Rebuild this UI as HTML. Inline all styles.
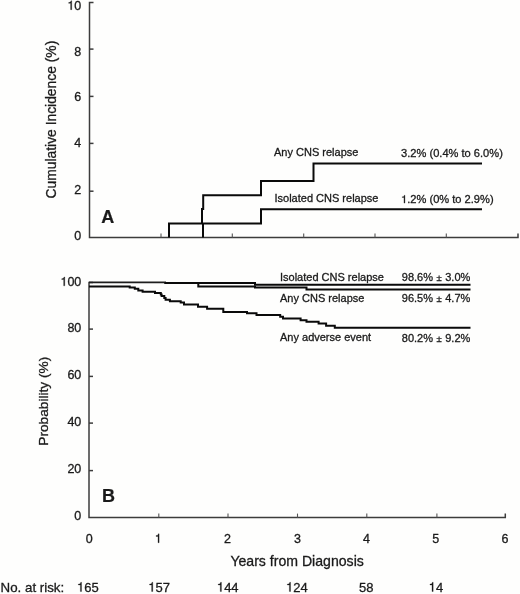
<!DOCTYPE html>
<html><head><meta charset="utf-8"><title>Cumulative incidence of CNS relapse and event-free probability</title>
<style>
html,body{margin:0;padding:0;background:#fff;}
body{width:520px;height:594px;overflow:hidden;font-family:"Liberation Sans",sans-serif;}
svg{display:block;will-change:transform;}
tspan.h{fill:none;stroke:none;}
</style></head><body>
<svg width="520" height="594" viewBox="0 0 520 594">
<rect width="520" height="594" fill="#fefefd"/>
<g stroke="#3c3c3c" stroke-width="1.5" fill="none">
<path d="M93.5,2.5 H89.5 V237.5 H518 V233.5"/>
<path d="M89.5,49.1 H93.5"/>
<path d="M89.5,96.4 H93.5"/>
<path d="M89.5,143.4 H93.5"/>
<path d="M89.5,191.2 H93.5"/>
<path d="M161,237.5 V233.5" stroke-width="1.1" stroke="#555"/>
<path d="M232.3,237.5 V233.5" stroke-width="1.1" stroke="#555"/>
<path d="M303.7,237.5 V233.5" stroke-width="1.1" stroke="#555"/>
<path d="M375,237.5 V233.5" stroke-width="1.1" stroke="#555"/>
<path d="M446.3,237.5 V233.5" stroke-width="1.1" stroke="#555"/>
</g>
<g stroke="#0a0a0a" stroke-width="2" fill="none">
<path d="M169,237.5 V223.6 H261 V209.2 H482"/>
<path d="M203,237.5 V223.6 M202,223.6 V209 H203.2 V195.2 H261 V181 H313.5 V163.6 H482"/>
</g>
<g stroke="#3c3c3c" stroke-width="1.5" fill="none">
<path d="M93,282.4 H89 V517.6 H505.3 V513.6"/>
<path d="M89,329.1 H93"/>
<path d="M89,376.4 H93"/>
<path d="M89,423.1 H93"/>
<path d="M89,470.6 H93"/>
<path d="M158.8,517.6 V513.6" stroke-width="1.1" stroke="#555"/>
<path d="M228,517.6 V513.6" stroke-width="1.1" stroke="#555"/>
<path d="M297.5,517.6 V513.6" stroke-width="1.1" stroke="#555"/>
<path d="M366.8,517.6 V513.6" stroke-width="1.1" stroke="#555"/>
<path d="M436.9,517.6 V513.6" stroke-width="1.1" stroke="#555"/>
</g>
<g stroke="#0a0a0a" stroke-width="2" fill="none">
<path d="M89,282.4 H166" stroke="#1e1e1e" stroke-width="1.9"/>
<path d="M165.5,282.6 V283.1 H255 V284.8 H470.5"/>
<path d="M165.5,282.6 V283.1 H198.3 V286.6 H255 V287.6 H306.5 V289.5 H470.5"/>
<path d="M89,286.4 H129.7 V287.5 H134.8 V288.7 H138.3 V290.6 H142.6 V291.8 H155 V293 H160.8 V294.5 H161.6 V296 H164.3 V298 H165.6 V299.7 H169.9 V301.3 H180.7 V302.5 H184 V304.4 H198 V306.8 H207.1 V308.8 H223.3 V312 H247 V313.3 H256.5 V315 H280.2 V316.7 H283 V318.5 H300.6 V320.2 H306.5 V321.7 H318.6 V323.5 H326.1 V325.8 H334.8 V327.8 H470.5"/>
</g>
<g font-family="Liberation Sans, sans-serif" fill="#1a1a1a" stroke="#1a1a1a" stroke-width="0.3">
<text id="t0" x="81.3" y="9.65" font-size="12.5" text-anchor="end"><tspan class="h">1</tspan>0</text>
<text id="t1" x="81.3" y="55.85" font-size="12.5" text-anchor="end">8</text>
<text id="t2" x="81.3" y="101.35" font-size="12.5" text-anchor="end">6</text>
<text id="t3" x="81.3" y="147.45" font-size="12.5" text-anchor="end">4</text>
<text id="t4" x="81.3" y="193.95" font-size="12.5" text-anchor="end">2</text>
<text id="t5" x="81.3" y="239.55" font-size="12.5" text-anchor="end">0</text>
<text id="t6" x="81.3" y="285.85" font-size="12.5" text-anchor="end"><tspan class="h">1</tspan>00</text>
<text id="t7" x="81.3" y="332.25" font-size="12.5" text-anchor="end">80</text>
<text id="t8" x="81.3" y="379.25" font-size="12.5" text-anchor="end">60</text>
<text id="t9" x="81.3" y="426.25" font-size="12.5" text-anchor="end">40</text>
<text id="t10" x="81.3" y="473.15" font-size="12.5" text-anchor="end">20</text>
<text id="t11" x="81.3" y="520.45" font-size="12.5" text-anchor="end">0</text>
<text id="t12" x="89.3" y="542.7" font-size="12.5" text-anchor="middle">0</text>
<text id="t13" x="158.25" y="542.7" font-size="12.5" text-anchor="middle"><tspan class="h">1</tspan></text>
<text id="t14" x="227.5" y="542.7" font-size="12.5" text-anchor="middle">2</text>
<text id="t15" x="297.4" y="542.7" font-size="12.5" text-anchor="middle">3</text>
<text id="t16" x="366.4" y="542.7" font-size="12.5" text-anchor="middle">4</text>
<text id="t17" x="435.8" y="542.7" font-size="12.5" text-anchor="middle">5</text>
<text id="t18" x="505.1" y="542.7" font-size="12.5" text-anchor="middle">6</text>
<text id="t19" transform="translate(56.3,119.6) rotate(-90)" font-size="13.85" text-anchor="middle">Cumulative Incidence (%)</text>
<text id="t20" transform="translate(48.4,401.25) rotate(-90)" font-size="13.7" text-anchor="middle">Probability (%)</text>
<text id="t21" x="297.1" y="566.3" font-size="14.1" text-anchor="middle">Years from Diagnosis</text>
<text id="t22" x="101.3" y="222.5" font-size="18" font-weight="bold" stroke-width="0.2">A</text>
<text id="t23" x="101.9" y="501.9" font-size="18" font-weight="bold" stroke-width="0.2">B</text>
<text id="t24" x="274" y="155.7" font-size="11">Any CNS relapse</text>
<text id="t25" x="401.1" y="156.6" font-size="11.1">3.2% (0.4% to 6.0%)</text>
<text id="t26" x="274.5" y="202.2" font-size="11">Isolated CNS relapse</text>
<text id="t27" x="401.1" y="203.1" font-size="11.1"><tspan class="h">1</tspan>.2% (0% to 2.9%)</text>
<text id="t28" x="280" y="280.7" font-size="11">Isolated CNS relapse</text>
<text id="t29" x="470.3" y="281.3" font-size="11" text-anchor="end">98.6% <tspan font-size="9.5" dx="0.438">±</tspan><tspan dx="0.438"> </tspan>3.0%</text>
<text id="t30" x="280" y="301.8" font-size="11">Any CNS relapse</text>
<text id="t31" x="470.3" y="301.7" font-size="11" text-anchor="end">96.5% <tspan font-size="9.5" dx="0.438">±</tspan><tspan dx="0.438"> </tspan>4.7%</text>
<text id="t32" x="280" y="341.4" font-size="11">Any adverse event</text>
<text id="t33" x="470.3" y="341.6" font-size="11" text-anchor="end">80.2% <tspan font-size="9.5" dx="0.438">±</tspan><tspan dx="0.438"> </tspan>9.2%</text>
<text id="t34" x="0.6" y="591.6" font-size="13.3">No. at risk:</text>
<text id="t35" x="87.88" y="591.5" font-size="13" text-anchor="middle"><tspan class="h">1</tspan>65</text>
<text id="t36" x="159.12" y="591.5" font-size="13" text-anchor="middle"><tspan class="h">1</tspan>57</text>
<text id="t37" x="227.75" y="591.5" font-size="13" text-anchor="middle"><tspan class="h">1</tspan>44</text>
<text id="t38" x="296.88" y="591.5" font-size="13" text-anchor="middle"><tspan class="h">1</tspan>24</text>
<text id="t39" x="366.25" y="591.5" font-size="13" text-anchor="middle">58</text>
<text id="t40" x="435.88" y="591.5" font-size="13" text-anchor="middle"><tspan class="h">1</tspan>4</text>
<path transform="translate(67.39,9.65) scale(0.01250,-0.01250)" vector-effect="non-scaling-stroke" d="M259 505H102V568Q204 581 235 604Q266 627 289 709H347V0H259Z"/>
<path transform="translate(60.44,285.85) scale(0.01250,-0.01250)" vector-effect="non-scaling-stroke" d="M259 505H102V568Q204 581 235 604Q266 627 289 709H347V0H259Z"/>
<path transform="translate(154.77,542.70) scale(0.01250,-0.01250)" vector-effect="non-scaling-stroke" d="M259 505H102V568Q204 581 235 604Q266 627 289 709H347V0H259Z"/>
<path transform="translate(401.10,203.10) scale(0.01110,-0.01110)" vector-effect="non-scaling-stroke" d="M259 505H102V568Q204 581 235 604Q266 627 289 709H347V0H259Z"/>
<path transform="translate(77.03,591.50) scale(0.01300,-0.01300)" vector-effect="non-scaling-stroke" d="M259 505H102V568Q204 581 235 604Q266 627 289 709H347V0H259Z"/>
<path transform="translate(148.27,591.50) scale(0.01300,-0.01300)" vector-effect="non-scaling-stroke" d="M259 505H102V568Q204 581 235 604Q266 627 289 709H347V0H259Z"/>
<path transform="translate(216.90,591.50) scale(0.01300,-0.01300)" vector-effect="non-scaling-stroke" d="M259 505H102V568Q204 581 235 604Q266 627 289 709H347V0H259Z"/>
<path transform="translate(286.03,591.50) scale(0.01300,-0.01300)" vector-effect="non-scaling-stroke" d="M259 505H102V568Q204 581 235 604Q266 627 289 709H347V0H259Z"/>
<path transform="translate(428.65,591.50) scale(0.01300,-0.01300)" vector-effect="non-scaling-stroke" d="M259 505H102V568Q204 581 235 604Q266 627 289 709H347V0H259Z"/>
</g>
</svg>
</body></html>
